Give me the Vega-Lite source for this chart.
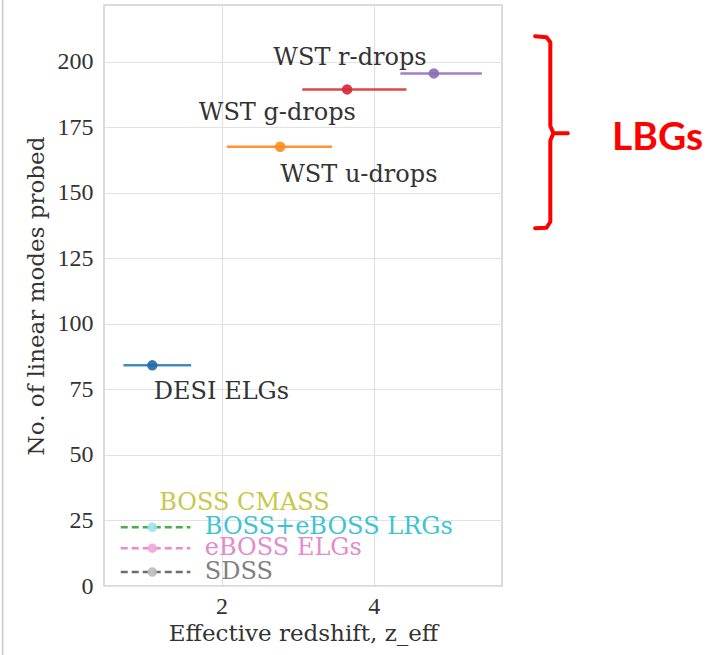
{
  "$schema": "https://vega.github.io/schema/vega-lite/v6.json",
  "width": 398,
  "height": 581,
  "autosize": {"type": "none"},
  "padding": {"left": 104, "top": 5, "right": 214, "bottom": 69},
  "background": "white",
  "config": {
    "view": {"stroke": "#cfcfcf", "strokeWidth": 1.5},
    "axis": {
      "domain": false,
      "ticks": false,
      "gridColor": "#e2e2e2",
      "gridWidth": 1.2,
      "labelFont": "Liberation Serif",
      "labelFontSize": 24,
      "labelColor": "#333333",
      "titleFont": "DejaVu Serif",
      "titleFontSize": 23,
      "titleFontWeight": "normal",
      "titleColor": "#333333"
    }
  },
  "datasets": {
    "bars": [
      {"series": "WST r-drops", "lo": 4.35, "hi": 5.42, "y": 195.6, "kind": "forecast"},
      {"series": "WST g-drops", "lo": 3.06, "hi": 4.43, "y": 189.5, "kind": "forecast"},
      {"series": "WST u-drops", "lo": 2.07, "hi": 3.45, "y": 167.6, "kind": "forecast"},
      {"series": "DESI ELGs", "lo": 0.71, "hi": 1.6, "y": 84.2, "kind": "forecast"},
      {"series": "BOSS", "lo": 0.675, "hi": 1.59, "y": 22.4, "kind": "current"},
      {"series": "eBOSS ELGs", "lo": 0.675, "hi": 1.59, "y": 14.4, "kind": "current"},
      {"series": "SDSS", "lo": 0.675, "hi": 1.59, "y": 5.3, "kind": "current"}
    ],
    "points": [
      {"series": "WST r-drops", "z": 4.79, "y": 195.6, "kind": "forecast"},
      {"series": "WST g-drops", "z": 3.65, "y": 189.5, "kind": "forecast"},
      {"series": "WST u-drops", "z": 2.77, "y": 167.6, "kind": "forecast"},
      {"series": "DESI ELGs", "z": 1.09, "y": 84.2, "kind": "forecast"},
      {"series": "BOSS+eBOSS LRGs", "z": 1.09, "y": 22.4, "kind": "current"},
      {"series": "eBOSS ELGs", "z": 1.09, "y": 14.4, "kind": "current"},
      {"series": "SDSS", "z": 1.09, "y": 5.3, "kind": "current"}
    ],
    "labels": [
      {"text": "WST r-drops", "z": 2.68, "y": 201.5, "group": "forecast"},
      {"text": "WST g-drops", "z": 1.7, "y": 180.4, "group": "forecast"},
      {"text": "WST u-drops", "z": 2.77, "y": 156.8, "group": "forecast"},
      {"text": "DESI ELGs", "z": 1.11, "y": 74, "group": "forecast"},
      {"text": "BOSS CMASS", "z": 1.18, "y": 31.6, "group": "BOSS CMASS"},
      {"text": "BOSS+eBOSS LRGs", "z": 1.78, "y": 22.4, "group": "BOSS+eBOSS LRGs"},
      {"text": "eBOSS ELGs", "z": 1.78, "y": 14.4, "group": "eBOSS ELGs"},
      {"text": "SDSS", "z": 1.78, "y": 5.3, "group": "SDSS"}
    ],
    "bracket": [
      {"i": 1, "z": 6.12, "y": 209.8},
      {"i": 2, "z": 6.27, "y": 209.4},
      {"i": 3, "z": 6.32, "y": 207.5},
      {"i": 4, "z": 6.32, "y": 175.5},
      {"i": 5, "z": 6.36, "y": 172.8},
      {"i": 6, "z": 6.55, "y": 172.8},
      {"i": 7, "z": 6.36, "y": 172.8},
      {"i": 8, "z": 6.32, "y": 170.0},
      {"i": 9, "z": 6.32, "y": 139.0},
      {"i": 10, "z": 6.27, "y": 136.7},
      {"i": 11, "z": 6.12, "y": 136.5}
    ],
    "note": [
      {"text": "LBGs", "z": 7.13, "y": 170.9}
    ],
    "border": [
      {"z": -0.877, "top": 224, "bottom": -27}
    ]
  },
  "layer": [
    {
      "data": {"name": "bars"},
      "mark": {"type": "rule", "strokeWidth": 2.5, "opacity": 0.85},
      "encoding": {
        "x": {"field": "lo", "type": "quantitative",
              "scale": {"domain": [0.455, 5.685], "nice": false, "zero": false},
              "axis": {"values": [2, 4], "format": "d", "labelPadding": 8, "titlePadding": 4,
                       "title": "Effective redshift, z_eff"}},
        "x2": {"field": "hi"},
        "y": {"field": "y", "type": "quantitative",
              "scale": {"domain": [0, 221.7], "nice": false},
              "axis": {"values": [0, 25, 50, 75, 100, 125, 150, 175, 200],
                       "labelPadding": 11, "titlePadding": 9,
                       "title": "No. of linear modes probed"}},
        "stroke": {"field": "series", "type": "nominal", "legend": null,
                   "scale": {"domain": ["WST r-drops", "WST g-drops", "WST u-drops", "DESI ELGs", "BOSS", "eBOSS ELGs", "SDSS"],
                             "range": ["#9467bd", "#d62728", "#ff7f0e", "#1f77b4", "#2ca02c", "#e377c2", "#555555"]}},
        "strokeDash": {"field": "kind", "type": "nominal", "legend": null,
                       "scale": {"domain": ["forecast", "current"], "range": [[1, 0], [7, 4]]}}
      }
    },
    {
      "data": {"name": "points"},
      "mark": {"type": "circle", "opacity": 0.9},
      "encoding": {
        "x": {"field": "z", "type": "quantitative"},
        "y": {"field": "y", "type": "quantitative"},
        "fill": {"field": "series", "type": "nominal", "legend": null,
                 "scale": {"domain": ["WST r-drops", "WST g-drops", "WST u-drops", "DESI ELGs", "BOSS+eBOSS LRGs", "eBOSS ELGs", "SDSS"],
                           "range": ["#8a6cb5", "#d62738", "#ff8c1a", "#1f68a8", "#9fe3ec", "#eda6d8", "#bbbbbb"]}},
        "size": {"field": "kind", "type": "nominal", "legend": null,
                 "scale": {"domain": ["forecast", "current"], "range": [110, 90]}}
      }
    },
    {
      "data": {"name": "labels"},
      "mark": {"type": "text", "align": "left", "baseline": "middle", "font": "DejaVu Serif", "fontSize": 24},
      "encoding": {
        "x": {"field": "z", "type": "quantitative"},
        "y": {"field": "y", "type": "quantitative"},
        "text": {"field": "text"},
        "color": {"field": "group", "type": "nominal", "legend": null,
                  "scale": {"domain": ["forecast", "BOSS CMASS", "BOSS+eBOSS LRGs", "eBOSS ELGs", "SDSS"],
                            "range": ["#333333", "#c8c84a", "#3cc4d4", "#e58acb", "#808080"]}}
      }
    },
    {
      "data": {"name": "bracket"},
      "mark": {"type": "line", "color": "#ff0000", "strokeWidth": 4, "strokeJoin": "round", "strokeCap": "round", "clip": false},
      "encoding": {
        "x": {"field": "z", "type": "quantitative"},
        "y": {"field": "y", "type": "quantitative"},
        "order": {"field": "i", "type": "quantitative"}
      }
    },
    {
      "data": {"name": "note"},
      "mark": {"type": "text", "align": "left", "baseline": "middle", "font": "Lato", "fontWeight": "bold", "fontSize": 39, "color": "#ff0000"},
      "encoding": {
        "x": {"field": "z", "type": "quantitative"},
        "y": {"field": "y", "type": "quantitative"},
        "text": {"field": "text"}
      }
    },
    {
      "data": {"name": "border"},
      "mark": {"type": "rule", "color": "#c8c8c8", "strokeWidth": 1.5},
      "encoding": {
        "x": {"field": "z", "type": "quantitative"},
        "y": {"field": "top", "type": "quantitative"},
        "y2": {"field": "bottom"}
      }
    }
  ]
}
